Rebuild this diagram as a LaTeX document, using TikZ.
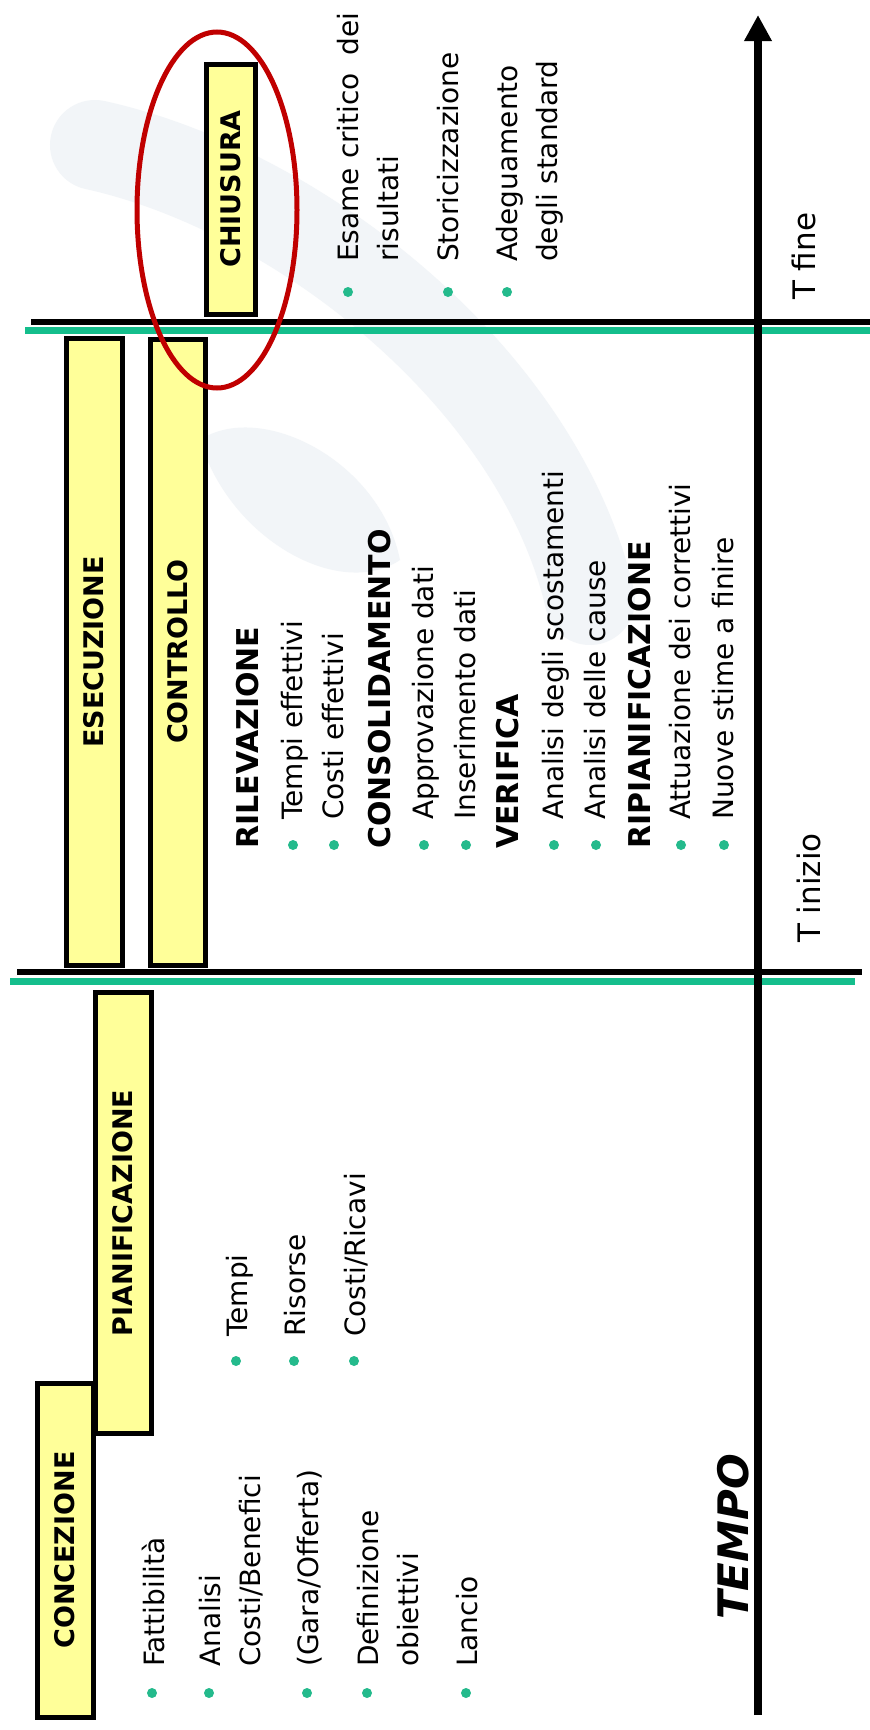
\documentclass[tikz,border=0pt]{standalone}
\usepackage{fontspec}
\setmainfont{DejaVu Sans}
\usetikzlibrary{arrows.meta,calc,positioning}
\definecolor{fasegiallo}{RGB}{255,255,153}
\definecolor{verdelinea}{RGB}{20,190,140}
\definecolor{verdepunto}{RGB}{36,186,140}
\definecolor{rossoanello}{RGB}{192,0,0}
\definecolor{filigrana}{RGB}{242,245,248}

\begin{document}
\begin{tikzpicture}[x=1pt, y=-1pt,
  fase/.style={draw, line width=5pt, fill=fasegiallo, rotate=90, inner sep=0pt,
    font=\fontsize{27}{32}\selectfont\bfseries},
  voce/.style={rotate=90, anchor=north west, inner sep=0pt, align=left,
    font=\fontsize{28}{40}\selectfont},
  titolo/.style={rotate=90, anchor=base west, inner sep=0pt,
    font=\fontsize{30}{36}\selectfont\bfseries},
  tempo/.style={rotate=90, anchor=base west, inner sep=0pt,
    font=\fontsize{31}{36}\selectfont}]

% Background
\fill[white] (0,0) rectangle (870,1730);
\useasboundingbox (0,0) rectangle (870,1730);

% Watermark swoosh
\draw[filigrana, line width=90pt, line cap=round]
  (95,145) .. controls (300,190) and (540,380) .. (590,600);
\fill[filigrana] (200,440) .. controls (260,400) and (380,460) .. (400,560)
  .. controls (340,600) and (230,540) .. cycle;

% Phase dividers
\draw[line width=6pt] (31,322) -- (870,322);
\draw[verdelinea, line width=7pt] (25,330) -- (870,330);
\draw[line width=6pt] (17,972) -- (862,972);
\draw[verdelinea, line width=7pt] (10,981) -- (855,981);

% Time axis
\coordinate (t0) at (758,1715);
\coordinate (t1) at (758,15);
\draw[line width=8pt, -{Triangle[length=26pt, width=26pt]}] (t0) -- (t1);
\node[tempo] (tfine) at (815,300) {T fine};
\node[tempo] (tinizio) at (820,943) {T inizio};
\node[tempo, font=\fontsize{42}{48}\selectfont\bfseries\itshape] (asse) at (748,1620) {TEMPO};

% Phase boxes
\node[fase, minimum width=334pt, minimum height=56pt] (concezione) at (65,1550) {CONCEZIONE};
\node[fase, minimum width=441pt, minimum height=56pt] (pianificazione) at (123,1213) {PIANIFICAZIONE};
\node[fase, minimum width=627pt, minimum height=56pt] (esecuzione) at (94,652) {ESECUZIONE};
\node[fase, minimum width=626pt, minimum height=55pt] (controllo) at (178,652) {CONTROLLO};
\node[fase, minimum width=250pt, minimum height=49pt] (chiusura) at (231,189) {CHIUSURA};

% Concezione
\foreach \n/\x/\testo in {conc1/163/{Fattibilità}, conc2/220/{Analisi\\Costi/Benefici},
    conc3/318/{(Gara/Offerta)}, conc4/378/{Definizione\\obiettivi}, conc5/477/{Lancio}} {
  \node[voce] (\n) at (\x-21,1667) {\testo};
  \fill[verdepunto] ($(\n.north west)+(10,26)$) circle (5);
}

% Pianificazione
\foreach \n/\x/\testo in {pian1/247/{Tempi}, pian2/305/{Risorse}, pian3/365/{Costi/Ricavi}} {
  \node[voce] (\n) at (\x-21,1337) {\testo};
  \fill[verdepunto] ($(\n.north west)+(10,24)$) circle (5);
}

% Controllo
\foreach \n/\x/\testo in {ril/258/RILEVAZIONE, cons/390/CONSOLIDAMENTO,
    ver/518/VERIFICA, ripian/650/RIPIANIFICAZIONE}
  \node[titolo] (\n) at (\x,849) {\testo};
\foreach \n/\x/\testo in {ctrl1/302/{Tempi effettivi}, ctrl2/343/{Costi effettivi},
    ctrl3/433/{Approvazione dati}, ctrl4/475/{Inserimento dati},
    ctrl5/563/{Analisi degli scostamenti}, ctrl6/605/{Analisi delle cause},
    ctrl7/690/{Attuazione dei correttivi}, ctrl8/733/{Nuove stime a finire}} {
  \node[voce] (\n) at (\x-21,820) {\testo};
  \fill[verdepunto] ($(\n.north west)+(12,25)$) circle (5);
}

% Chiusura
\foreach \n/\x/\testo in {chiu1/358/{Esame critico\ \ dei\\risultati},
    chiu2/458/{Storicizzazione}, chiu3/517/{Adeguamento\\degli standard}} {
  \node[voce] (\n) at (\x-21,262) {\testo};
  \fill[verdepunto] ($(\n.north west)+(11,30)$) circle (5);
}

% Highlight
\draw[rossoanello, line width=5pt] (217,210) ellipse [x radius=80, y radius=178];
\end{tikzpicture}
\end{document}
